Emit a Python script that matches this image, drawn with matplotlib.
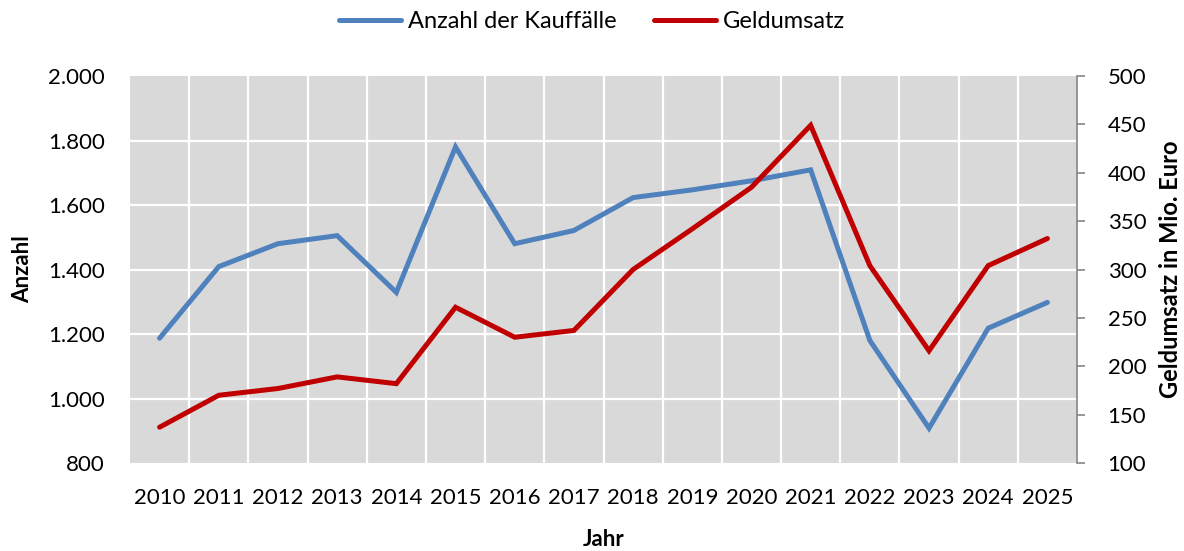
import matplotlib
matplotlib.use("Agg")
import matplotlib.pyplot as plt
import numpy as np

years = ["2010", "2011", "2012", "2013", "2014", "2015", "2016", "2017",
         "2018", "2019", "2020", "2021", "2022", "2023", "2024", "2025"]
anzahl = [1187, 1409, 1480, 1505, 1329, 1780, 1480, 1521,
          1623, 1647, 1675, 1709, 1180, 908, 1218, 1298]
geldumsatz = [137, 170, 177, 189, 182, 261, 230, 237,
              300, 342, 385, 449, 304, 216, 304, 332]
left_ticks = [800, 1000, 1200, 1400, 1600, 1800, 2000]
left_labels = ["800", "1.000", "1.200", "1.400", "1.600", "1.800", "2.000"]
right_ticks = [100, 150, 200, 250, 300, 350, 400, 450, 500]

plt.rcParams['font.family'] = ['Lato', 'DejaVu Sans']
FS = 16

fig = plt.figure(figsize=(11.84, 5.51), dpi=100)
ax = fig.add_axes([130/1184, 1-463/551, (1077-130)/1184, (463-76)/551])
ax2 = ax.twinx()

x = np.arange(len(years))
ax.set_facecolor('#D9D9D9')
ax.set_xlim(-0.5, len(years) - 0.5)
ax.set_ylim(800, 2000)
ax2.set_ylim(100, 500)

# grid
for b in np.arange(-0.5, len(years) - 0.4, 1.0)[1:-1]:
    ax.axvline(b, color='white', lw=1.6, zorder=1)
for t in left_ticks[1:-1]:
    ax.axhline(t, color='white', lw=1.6, zorder=1)

l1, = ax.plot(x, anzahl, color='#4F81BD', lw=3.6, solid_capstyle='round',
              solid_joinstyle='miter', zorder=3, label='Anzahl der Kauffälle')
l2, = ax2.plot(x, geldumsatz, color='#C00000', lw=3.6, solid_capstyle='round',
               solid_joinstyle='miter', zorder=3, label='Geldumsatz')

ax.set_xticks(x)
ax.set_xticklabels(years, fontsize=FS)
ax.tick_params(axis='x', length=0, pad=18)
ax.set_yticks(left_ticks)
ax.set_yticklabels(left_labels, fontsize=FS)
ax.tick_params(axis='y', length=0, pad=18)
ax2.set_yticks(right_ticks)
ax2.set_yticklabels([str(t) for t in right_ticks], fontsize=FS)
ax2.tick_params(axis='y', length=6, width=1.2, color='#868686', pad=16)

for s in ['top', 'bottom', 'left']:
    ax.spines[s].set_visible(False)
    ax2.spines[s].set_visible(False)
ax.spines['right'].set_visible(False)
ax2.spines['right'].set_color('#868686')
ax2.spines['right'].set_linewidth(1.2)

ax.set_xlabel('Jahr', fontsize=FS, fontweight='bold', labelpad=15)
ax.set_ylabel('Anzahl', fontsize=FS, fontweight='bold', labelpad=11)
ax2.set_ylabel('Geldumsatz in Mio. Euro', fontsize=17, fontweight='bold', labelpad=9)

fig.legend(handles=[l1, l2], loc='upper center', bbox_to_anchor=(0.5, 1.018),
           ncol=2, frameon=False, fontsize=17, handlelength=2.6,
           columnspacing=1.6, handletextpad=0.3)

fig.savefig('out.png', dpi=100)
